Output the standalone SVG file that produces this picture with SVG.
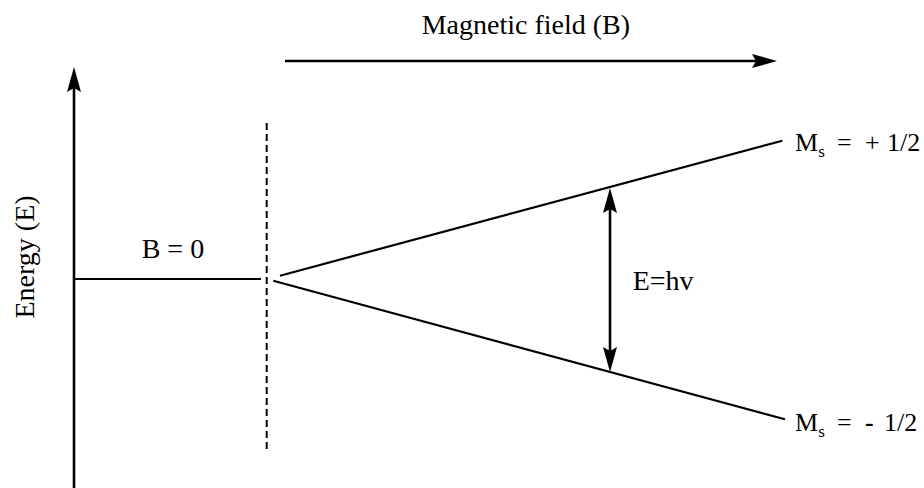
<svg xmlns="http://www.w3.org/2000/svg" width="924" height="488" viewBox="0 0 924 488">
<style>
.ln{stroke:#000;stroke-width:2.2;fill:none}
.ax{stroke:#000;stroke-width:2.6;fill:none}
.dash{stroke:#000;stroke-width:2;stroke-dasharray:7 4;fill:none}
.t{font-family:"Liberation Serif","Times New Roman",serif;font-size:28px;fill:#000}
.m{font-family:"Liberation Serif","Times New Roman",serif;font-size:26px;fill:#000}
.sub{font-size:17px}
</style>
<defs>
<marker id="arr" markerUnits="userSpaceOnUse" markerWidth="30" markerHeight="16" refX="15" refY="8" orient="auto-start-reverse">
<path d="M0,1 L25,8 L0,15 L4,8 Z" fill="#000"/>
</marker>
</defs>
<g id="connectors">
<line class="ax" x1="74" y1="488" x2="74" y2="77" marker-end="url(#arr)"/>
<line class="ax" x1="285" y1="61" x2="767" y2="61" marker-end="url(#arr)"/>
<line class="ax" x1="610" y1="198" x2="610" y2="362" marker-start="url(#arr)" marker-end="url(#arr)"/>
<line class="ln" x1="74" y1="279" x2="261" y2="279"/>
<line class="dash" x1="266.7" y1="123" x2="266.7" y2="452"/>
<line class="ln" x1="280" y1="275.7" x2="782.3" y2="140.7"/>
<line class="ln" x1="273.3" y1="280.7" x2="785" y2="419.3"/>
</g>
<g id="label-field"><text class="t" x="421.7" y="34">Magnetic field (B)</text></g>
<g id="label-energy"><text class="t" transform="translate(34,257) rotate(-90)" text-anchor="middle">Energy (E)</text></g>
<g id="label-b0"><text class="t" x="141.7" y="258">B = 0</text></g>
<g id="label-ehv"><text class="t" x="632.7" y="290">E=hv</text></g>
<g id="label-plus"><text class="m" y="151"><tspan x="795">M</tspan><tspan class="sub" dy="6">s</tspan><tspan x="837" dy="-6">=</tspan><tspan x="865">+</tspan><tspan x="887">1/2</tspan></text></g>
<g id="label-minus"><text class="m" y="431"><tspan x="795">M</tspan><tspan class="sub" dy="6">s</tspan><tspan x="837" dy="-6">=</tspan><tspan x="865" font-weight="bold">-</tspan><tspan x="884">1/2</tspan></text></g>
</svg>
